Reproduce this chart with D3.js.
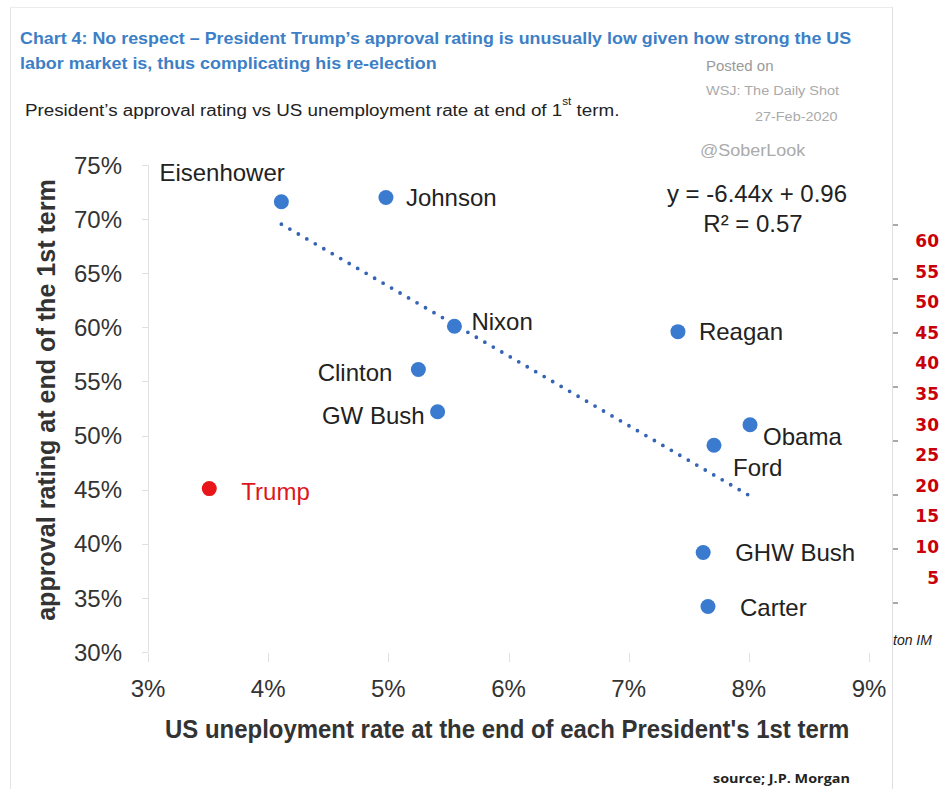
<!DOCTYPE html>
<html><head><meta charset="utf-8">
<script src="https://cdn.jsdelivr.net/npm/d3@7"></script>
<style>
html,body{margin:0;padding:0;background:#fff;}
svg{display:block;font-family:"Liberation Sans",Arial,sans-serif;}
</style></head>
<body>
<svg id="chart" width="941" height="789"></svg>
<script>
// ---------------- data ----------------
const presidents = ["Eisenhower","Johnson","Nixon","Clinton","GW Bush","Reagan","Obama","Ford","GHW Bush","Carter","Trump"];
const unemployment = [4.11, 4.98, 5.55, 5.25, 5.41, 7.41, 8.01, 7.71, 7.62, 7.66, 3.51];
const approval     = [71.6, 72.0, 60.1, 56.1, 52.2, 59.6, 51.0, 49.1, 39.2, 34.2, 45.1];
const highlighted  = ["Trump"];
const xTicks = [3,4,5,6,7,8,9];
const yTicks = [30,35,40,45,50,55,60,65,70,75];
const trendSlope = -6.44, trendIntercept = 0.96;   // y = -6.44x + 0.96 (fractions)
const trendRange = [4.11, 8.0];
const rightTicks = [60,55,50,45,40,35,30,25,20,15,10,5];

// ---------------- layout (label offsets from point) ----------------
const labelLayout = {
  "Eisenhower":[-122,-21,"start"], "Johnson":[20,9,"start"], "Nixon":[17,4,"start"],
  "Clinton":[-26,11,"end"], "GW Bush":[-13,12,"end"], "Reagan":[21,8,"start"],
  "Obama":[13,20,"start"], "Ford":[19,31,"start"], "GHW Bush":[32,9,"start"],
  "Carter":[32,9,"start"], "Trump":[32,11,"start"]
};

const svg = d3.select("#chart");
const x = d3.scaleLinear().domain([3,9]).range([148,869]);
const y = d3.scaleLinear().domain([30,75]).range([652,165]);

function fit(sel, w){
  const bw = sel.node().getBBox().width;
  sel.attr("transform", `scale(${w/bw},1)`);
}

// frame
svg.append("line").attr("x1",10.5).attr("x2",10.5).attr("y1",7).attr("y2",789).attr("stroke","#e4e4e4");
svg.append("line").attr("x1",10).attr("x2",892).attr("y1",7.5).attr("y2",7.5).attr("stroke","#ececec");
svg.append("line").attr("x1",892.5).attr("x2",892.5).attr("y1",7).attr("y2",789).attr("stroke","#dedede");

// title
const blue = "#3d7fc6";
let g = svg.append("g").attr("transform","translate(20,44)");
fit(g.append("text").attr("font-weight","bold").attr("font-size",16).attr("fill",blue)
  .text("Chart 4: No respect \u2013 President Trump\u2019s approval rating is unusually low given how strong the US"), 832);
g = svg.append("g").attr("transform","translate(20,69)");
fit(g.append("text").attr("font-weight","bold").attr("font-size",16).attr("fill",blue)
  .text("labor market is, thus complicating his re-election"), 417);

// subtitle
g = svg.append("g").attr("transform","translate(25,116)");
const sub = g.append("text").attr("font-size",16).attr("fill","#222");
sub.append("tspan").text("President\u2019s approval rating vs US unemployment rate at end of 1");
sub.append("tspan").attr("font-size",10).attr("dy",-11).text("st");
sub.append("tspan").attr("dy",11).text(" term.");
fit(sub, 595);

// watermark
svg.append("text").attr("x",706).attr("y",71).attr("font-size",15).attr("fill","#9a9a9a").text("Posted on");
g = svg.append("g").attr("transform","translate(706,95)");
fit(g.append("text").attr("font-size",12).attr("fill","#aaa").text("WSJ: The Daily Shot"),134);
g = svg.append("g").attr("transform","translate(755,121)");
fit(g.append("text").attr("font-size",12).attr("fill","#aaa").text("27-Feb-2020"),83);
g = svg.append("g").attr("transform","translate(700,156)");
fit(g.append("text").attr("font-size",17).attr("fill","#ababab").text("@SoberLook"),106);

// axes
svg.append("line").attr("x1",148.5).attr("x2",148.5).attr("y1",y(75)).attr("y2",y(30)).attr("stroke","#e2e2e2");
svg.selectAll(".yt").data(yTicks).enter().append("line")
  .attr("x1",142).attr("x2",148).attr("y1",d=>Math.round(y(d))+0.5).attr("y2",d=>Math.round(y(d))+0.5).attr("stroke","#e0e0e0");
svg.selectAll(".ytl").data(yTicks).enter().append("text")
  .attr("x",122).attr("y",d=>y(d)).attr("dy","0.36em").attr("text-anchor","end")
  .attr("font-size",24).attr("fill","#333").text(d=>d+"%");
svg.selectAll(".xt").data(xTicks).enter().append("line")
  .attr("x1",d=>Math.round(x(d))+0.5).attr("x2",d=>Math.round(x(d))+0.5).attr("y1",653).attr("y2",662).attr("stroke","#e0e0e0");
svg.selectAll(".xtl").data(xTicks).enter().append("text")
  .attr("x",d=>x(d)).attr("y",697).attr("text-anchor","middle")
  .attr("font-size",24).attr("fill","#333").text(d=>d+"%");

// axis titles
g = svg.append("g").attr("transform","translate(165,738)");
fit(g.append("text").attr("font-weight","bold").attr("font-size",25).attr("fill","#333")
  .text("US uneployment rate at the end of each President's 1st term"), 685);
g = svg.append("g").attr("transform","translate(55,400) rotate(-90)");
fit(g.append("text").attr("text-anchor","middle").attr("font-weight","bold").attr("font-size",25).attr("fill","#333")
  .text("approval rating at end of the 1st term"), 442);

// trendline
const trendPts = trendRange.map(v => [v, 100*(trendSlope*v/100 + trendIntercept)]);
svg.append("path").datum(trendPts)
  .attr("d", d3.line().x(d=>x(d[0])).y(d=>y(d[1])))
  .attr("stroke","#3564b4").attr("stroke-width",3.8).attr("stroke-linecap","round")
  .attr("stroke-dasharray","0 9.8").attr("fill","none");

// equation
svg.append("text").attr("x",757).attr("y",202).attr("text-anchor","middle").attr("font-size",24).attr("fill","#222").text("y = -6.44x + 0.96");
svg.append("text").attr("x",753).attr("y",232).attr("text-anchor","middle").attr("font-size",24).attr("fill","#222").text("R\u00B2 = 0.57");

// points
const pts = presidents.map((n,i)=>({name:n, u:unemployment[i], a:approval[i], hl:highlighted.includes(n)}));
svg.selectAll(".pt").data(pts).enter().append("circle")
  .attr("cx",d=>x(d.u)).attr("cy",d=>y(d.a)).attr("r",7.5)
  .attr("fill",d=>d.hl ? "#e8161a" : "#3a7acf");
svg.selectAll(".lbl").data(pts).enter().append("text")
  .attr("x",d=>x(d.u)+labelLayout[d.name][0]).attr("y",d=>y(d.a)+labelLayout[d.name][1])
  .attr("text-anchor",d=>labelLayout[d.name][2])
  .attr("font-size",24).attr("fill",d=>d.hl ? "#e0161c" : "#222").text(d=>d.name);

// source
g = svg.append("g").attr("transform","translate(713,783)");
fit(g.append("text").attr("font-family","'Open Sans',sans-serif").attr("font-weight","bold").attr("font-size",13).attr("fill","#222")
  .text("source; J.P. Morgan"), 137);

// partial neighbouring chart on the right
svg.selectAll(".rt").data(d3.range(8)).enter().append("line")
  .attr("x1",893).attr("x2",898).attr("y1",d=>225+d*54).attr("y2",d=>225+d*54).attr("stroke","#555");
svg.selectAll(".rtl").data(rightTicks).enter().append("text")
  .attr("x",939).attr("y",(d,i)=>247+i*30.6).attr("text-anchor","end")
  .attr("font-family","'DejaVu Sans',sans-serif").attr("font-weight","bold").attr("font-size",17)
  .attr("fill","#c8000a").text(d=>d);
svg.append("text").attr("x",893).attr("y",645).attr("font-style","italic").attr("font-size",14).attr("fill","#222").text("ton IM");
</script>
</body></html>
